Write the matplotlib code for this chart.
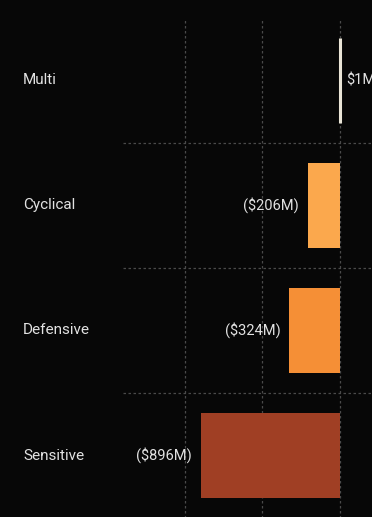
import matplotlib.pyplot as plt
import matplotlib.transforms as mtransforms

categories = ["Multi", "Cyclical", "Defensive", "Sensitive"]
values = [1, -206, -324, -896]
labels = ["$1M", "($206M)", "($324M)", "($896M)"]
colors = ["#e9e4d6", "#fba84d", "#f58f36", "#a03f24"]

bg = "#070707"
text_color = "#e2e2e2"
grid_color = "#4a4a4a"

plt.rcParams['font.family'] = ['Roboto', 'DejaVu Sans']

W, H = 372, 517
fig = plt.figure(figsize=(W / 100, H / 100), dpi=100)
fig.patch.set_facecolor(bg)

# plot area: left edge at x=123px, zero line at 339.5px, 77.5px per $500M
px_per_m = 77.5 / 500
x0 = 339.5
ax_left = 123
ax_top = 18
ax_h = 500
ax = fig.add_axes([ax_left / W, (H - ax_top - ax_h) / H, (W - ax_left) / W, ax_h / H])
ax.set_facecolor(bg)

ypos = list(range(len(categories)))

lws = [2.2 if abs(v) < 5 else 0 for v in values]
ax.barh(ypos, values, height=0.68, color=colors, edgecolor=colors,
        linewidth=lws, zorder=3)

# grid
ax.set_xticks([-1000, -500, 0, 500])
ax.set_yticks([y + 0.5 for y in ypos[:-1]])
ax.grid(True, axis='both', color=grid_color, linestyle=(0, (2, 2)),
        linewidth=0.9, zorder=0)
ax.tick_params(length=0, labelleft=False, labelbottom=False)
for s in ax.spines.values():
    s.set_visible(False)

# limits after ticks so the 500 tick does not widen the view
ax.set_xlim((ax_left - x0) / px_per_m, (W - x0) / px_per_m)
ax.set_ylim(len(categories) - 0.5, -0.5)

# value labels
for y, v, lab in zip(ypos, values, labels):
    if v >= 0:
        ax.annotate(lab, (v, y), xytext=(5, 0), textcoords='offset points',
                    ha='left', va='center', color=text_color, fontsize=10.5,
                    annotation_clip=False)
    else:
        ax.annotate(lab, (v, y), xytext=(-6.5, 0), textcoords='offset points',
                    ha='right', va='center', color=text_color, fontsize=10.5)

# category labels
tr = mtransforms.blended_transform_factory(fig.transFigure, ax.transData)
for y, c in zip(ypos, categories):
    ax.text(23 / W, y, c, transform=tr, ha='left', va='center',
            color=text_color, fontsize=11, clip_on=False)

fig.savefig("out.png", dpi=100, facecolor=bg)
